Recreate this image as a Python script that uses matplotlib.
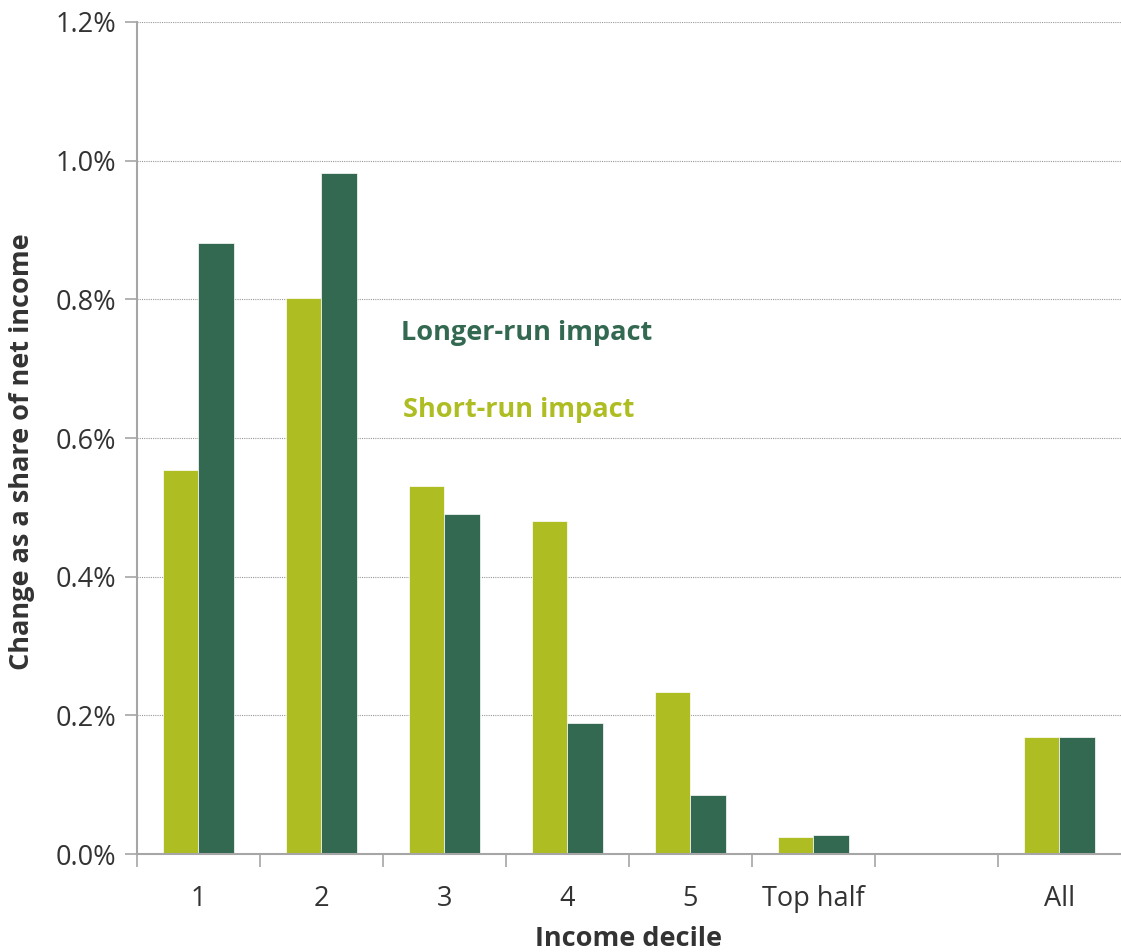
import numpy as np
import matplotlib.pyplot as plt
from matplotlib.ticker import FuncFormatter

plt.rcParams['font.family'] = ['Open Sans', 'Noto Sans', 'DejaVu Sans']

categories = ['1', '2', '3', '4', '5', 'Top half', '', 'All']
short_run = [0.554, 0.802, 0.531, 0.480, 0.234, 0.025, np.nan, 0.169]
longer_run = [0.881, 0.982, 0.490, 0.189, 0.085, 0.027, np.nan, 0.169]

short_col = '#AEBD22'
long_col = '#336851'
axis_col = '#A6A6A6'
text_col = '#333333'

fig = plt.figure(figsize=(11.21, 9.52), dpi=100)
ax = fig.add_axes([0.1222, 0.1029, 0.8778, 0.874])

x = np.arange(len(categories))
w = 0.285
ax.bar(x - w / 2, short_run, width=w, color=short_col, edgecolor='white', linewidth=0.5, zorder=3)
ax.bar(x + w / 2, longer_run, width=w, color=long_col, edgecolor='white', linewidth=0.5, zorder=3)

ax.set_xlim(-0.5, len(categories) - 0.5)
ax.set_ylim(0, 1.2)

# y axis
ax.set_yticks(np.arange(0, 1.21, 0.2))
ax.yaxis.set_major_formatter(FuncFormatter(lambda v, p: f'{v:.1f}%'))
ax.tick_params(axis='y', length=9, width=1.2, color=axis_col, labelsize=19.5,
               labelcolor=text_col, pad=6)
for yv in np.arange(0.2, 1.21, 0.2):
    ax.axhline(yv, color='#999999', linestyle=(0, (1, 1)), linewidth=0.8, zorder=1)

# x axis: ticks at category boundaries, labels at centres
ax.set_xticks(np.arange(-0.5, len(categories) - 1, 1.0))
ax.set_xticklabels([])
ax.set_xticks(x, minor=True)
ax.set_xticklabels(categories, minor=True)
ax.tick_params(axis='x', which='major', length=9, width=1.2, color=axis_col)
ax.tick_params(axis='x', which='minor', length=0, labelsize=19.5, labelcolor=text_col, pad=22)

for s in ['top', 'right']:
    ax.spines[s].set_visible(False)
for s in ['left', 'bottom']:
    ax.spines[s].set_color(axis_col)
    ax.spines[s].set_linewidth(1.5)
ax.spines['bottom'].set_zorder(4)

ax.set_ylabel('Change as a share of net income', fontsize=19.5, fontweight='bold',
              color=text_col)
ax.yaxis.set_label_coords(-0.104, 0.484)
ax.set_xlabel('Income decile', fontsize=19.5, fontweight='bold', color=text_col, labelpad=10)

ax.text(1.65, 0.751, 'Longer-run impact', color=long_col, fontsize=19.5,
        fontweight='bold', va='center', ha='left')
ax.text(1.66, 0.640, 'Short-run impact', color=short_col, fontsize=19.5,
        fontweight='bold', va='center', ha='left')

fig.savefig('out.png', dpi=100)
